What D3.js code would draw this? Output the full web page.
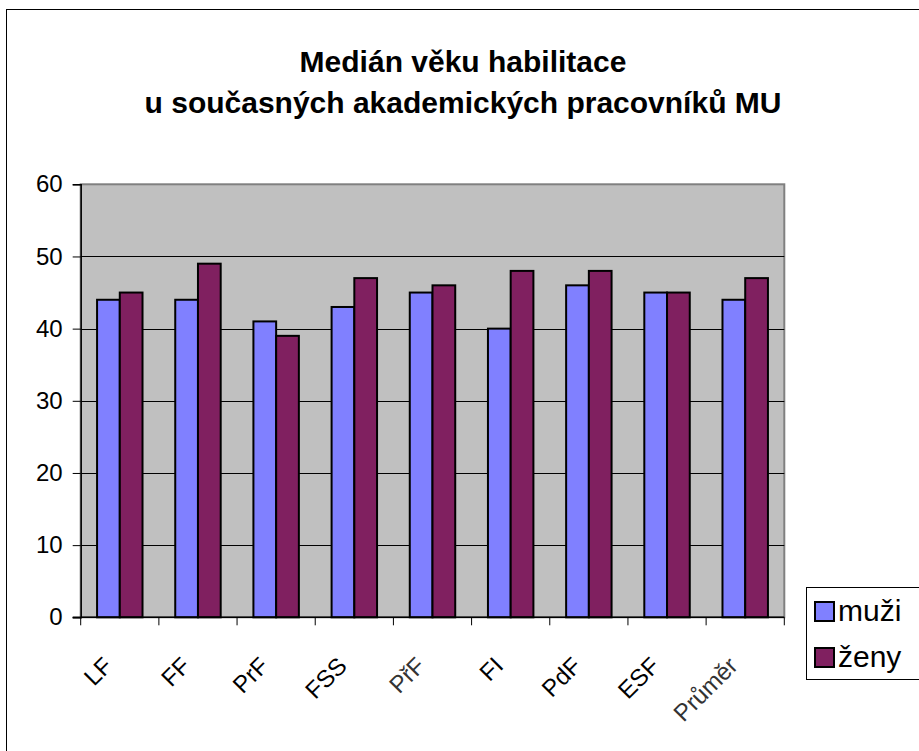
<!DOCTYPE html>
<html>
<head>
<meta charset="utf-8">
<script src="https://cdn.jsdelivr.net/npm/d3@7"></script>
<style>
  body { margin: 0; background: #fff; }
  svg { display: block; font-family: "Liberation Sans", Arial, sans-serif; }
</style>
</head>
<body>
<div class="chart"></div>
<script>
// DATA ------------------------------
const categories = ["LF", "FF", "PrF", "FSS", "PřF", "FI", "PdF", "ESF", "Průměr"];
const muzi = [44, 44, 41, 43, 45, 40, 46, 45, 44];
const zeny = [45, 49, 39, 47, 46, 48, 48, 45, 47];
const seriesNames = ["muži", "ženy"];
const yTicks = [0, 10, 20, 30, 40, 50, 60];
const titleLines = ["Medián věku habilitace", "u současných akademických pracovníků MU"];

// CHART INIT ------------------------------
const W = 919, H = 751;
const plot = {left: 80.7, right: 784.3, top: 184.3, bottom: 617.3};
const colors = {"muži": "#8080ff", "ženy": "#802060"};

const svg = d3.select(".chart").append("svg")
    .attr("width", W)
    .attr("height", H);

// outer chart frame
svg.append("rect")
    .attr("x", 6.5).attr("y", 9.5)
    .attr("width", 1000).attr("height", 800)
    .attr("fill", "#fff")
    .attr("stroke", "#000")
    .attr("stroke-width", 1);

// title
svg.append("g").selectAll("text")
    .data(titleLines)
    .join("text")
    .attr("x", 463)
    .attr("y", (d, i) => 72 + i * 41)
    .attr("text-anchor", "middle")
    .attr("font-size", 30)
    .attr("font-weight", "bold")
    .text(d => d);

const xScale = d3.scaleBand()
    .domain(categories)
    .range([plot.left, plot.right])
    .padding(0);

const xSub = d3.scaleBand()
    .domain(seriesNames)
    .range([0, xScale.bandwidth()])
    .paddingInner(0)
    .paddingOuter(0.72);

const yScale = d3.scaleLinear()
    .domain([0, 60])
    .range([plot.bottom, plot.top]);

// plot background
svg.append("rect")
    .attr("x", plot.left).attr("y", plot.top)
    .attr("width", plot.right - plot.left)
    .attr("height", plot.bottom - plot.top)
    .attr("fill", "#c0c0c0")
    .attr("stroke", "#808080")
    .attr("stroke-width", 2);

// gridlines
svg.append("g").selectAll("line")
    .data(yTicks.filter(d => d > 0 && d < 60))
    .join("line")
    .attr("x1", plot.left).attr("x2", plot.right)
    .attr("y1", d => Math.round(yScale(d)) + 0.5)
    .attr("y2", d => Math.round(yScale(d)) + 0.5)
    .attr("stroke", "#000");

// bars
const rows = categories.map((c, i) => ({cat: c, values: [
    {key: "muži", value: muzi[i]},
    {key: "ženy", value: zeny[i]}
]}));

svg.append("g").selectAll("g")
    .data(rows)
    .join("g")
    .attr("transform", d => "translate(" + xScale(d.cat) + ",0)")
    .selectAll("rect")
    .data(d => d.values)
    .join("rect")
    .attr("x", d => xSub(d.key))
    .attr("y", d => yScale(d.value))
    .attr("width", xSub.bandwidth())
    .attr("height", d => plot.bottom - yScale(d.value))
    .attr("fill", d => colors[d.key])
    .attr("stroke", "#000")
    .attr("stroke-width", 2);

// axes
const yAxis = svg.append("g")
    .attr("transform", "translate(" + plot.left + ",0)")
    .call(d3.axisLeft(yScale).tickValues(yTicks).tickSize(8).tickPadding(10));
yAxis.selectAll("text").attr("font-size", 24).attr("fill", "#000").attr("font-family", "Liberation Sans, Arial, sans-serif");
yAxis.select(".domain").attr("stroke", "#000").attr("stroke-width", 1.5);

const xAxis = svg.append("g")
    .attr("transform", "translate(0," + plot.bottom + ")");
xAxis.append("line")
    .attr("x1", plot.left - 8).attr("x2", plot.right)
    .attr("stroke", "#000").attr("stroke-width", 1.5);
xAxis.selectAll(".tick")
    .data(categories.concat(["_end"]))
    .join("line")
    .attr("class", "tick")
    .attr("x1", (d, i) => i < categories.length ? xScale(d) : plot.right)
    .attr("x2", (d, i) => i < categories.length ? xScale(d) : plot.right)
    .attr("y1", 0).attr("y2", 8)
    .attr("stroke", "#000");
xAxis.selectAll(".lbl")
    .data(categories)
    .join("text")
    .attr("class", "lbl")
    .attr("text-anchor", "end")
    .attr("font-size", 24)
    .attr("fill", d => (d === "PřF" || d === "Průměr") ? "#333" : "#000")
    .attr("transform", d => "translate(" + (xScale(d) + xScale.bandwidth() / 2 - 6) + ",50) rotate(-45)")
    .text(d => d);

// legend
const legend = svg.append("g");
legend.append("rect")
    .attr("x", 806.5).attr("y", 587.5)
    .attr("width", 130).attr("height", 92)
    .attr("fill", "#fff").attr("stroke", "#000");
const li = legend.selectAll("g")
    .data(seriesNames)
    .join("g")
    .attr("transform", (d, i) => "translate(815," + (602 + i * 46) + ")");
li.append("rect")
    .attr("width", 19).attr("height", 19)
    .attr("fill", d => colors[d])
    .attr("stroke", "#000").attr("stroke-width", 2);
li.append("text")
    .attr("x", 23).attr("y", 19)
    .attr("font-size", 30)
    .text(d => d);
</script>
</body>
</html>
